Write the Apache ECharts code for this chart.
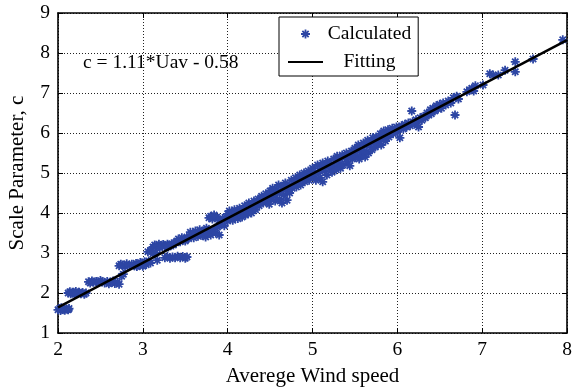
<!DOCTYPE html>
<html>
<head>
<meta charset="utf-8">
<style>
html,body{margin:0;padding:0;background:#fff;}
#chart{width:574px;height:388px;}
</style>
<script src="https://cdn.jsdelivr.net/npm/echarts@6/dist/echarts.min.js"></script>
</head>
<body>
<div id="chart"></div>
<script>
// ---- data ----
const xTicks = [2, 3, 4, 5, 6, 7, 8];
const yTicks = [1, 2, 3, 4, 5, 6, 7, 8, 9];
const xName = 'Averege Wind speed';
const yName = 'Scale Parameter, c';
const fitLabel = 'c = 1.11*Uav - 0.58';
const seriesNames = ['Calculated', 'Fitting'];

const calculated = [
  [2.0,1.58],[2.02,1.61],[2.03,1.56],[2.05,1.59],[2.07,1.62],[2.08,1.57],[2.1,1.6],[2.12,1.58],[2.13,1.61],[2.04,1.63],
  [2.12,2.0],[2.14,2.03],[2.15,1.98],[2.17,2.02],[2.19,2.0],[2.21,2.04],[2.23,1.99],[2.25,2.02],[2.27,1.98],[2.29,2.01],[2.31,1.97],[2.33,2.0],[2.2,1.97],
  [2.36,2.28],[2.38,2.25],[2.4,2.3],[2.42,2.27],[2.45,2.29],[2.48,2.26],[2.52,2.28],[2.55,2.25],[2.58,2.29],[2.6,2.23],[2.62,2.27],[2.65,2.3],[2.67,2.24],[2.7,2.27],[2.72,2.22],[2.5,2.31],
  [2.75,2.42],[2.77,2.47],
  [2.72,2.68],[2.74,2.72],[2.76,2.7],[2.79,2.66],[2.81,2.73],[2.84,2.69],[2.87,2.72],[2.9,2.68],[2.92,2.74],[2.95,2.7],[2.97,2.76],[3.0,2.72],[3.02,2.78],[3.04,2.71],[3.07,2.8],[3.09,2.75],[2.93,2.66],[3.0,2.67],
  [3.06,3.03],[3.09,3.06],[3.12,2.98],[3.15,3.0],
  [3.12,3.15],[3.14,3.2],[3.16,3.17],[3.19,3.22],[3.21,3.18],[3.24,3.21],[3.26,3.16],[3.29,3.22],[3.31,3.19],[3.34,3.23],[3.36,3.2],[3.39,3.26],[3.2,3.13],[3.3,3.15],
  [3.17,2.82],[3.26,2.88],[3.29,2.91],[3.32,2.87],[3.35,2.9],[3.38,2.88],[3.41,2.92],[3.44,2.88],[3.47,2.91],[3.5,2.87],[3.52,2.9],
  [3.4,3.3],[3.42,3.35],[3.44,3.28],[3.46,3.38],[3.48,3.33],[3.5,3.3],[3.52,3.4],[3.54,3.36],[3.56,3.52],[3.58,3.45],[3.6,3.38],[3.62,3.55],[3.63,3.48],[3.65,3.42],[3.67,3.58],[3.68,3.5],[3.7,3.44],[3.72,3.55],[3.74,3.4],[3.75,3.62],[3.77,3.5],[3.78,3.88],[3.8,3.92],[3.8,3.45],[3.82,3.85],[3.83,3.58],[3.84,3.95],[3.86,3.5],[3.87,3.9],[3.88,3.65],[3.9,3.82],[3.9,3.45],[3.92,3.72],[3.94,3.86],[3.96,3.68],[3.98,3.9],
  [4.0,3.98],[4.0,3.8],[4.02,4.05],[4.03,3.9],[4.05,3.95],[4.06,3.82],[4.08,4.08],[4.09,3.93],[4.11,4.02],[4.12,3.86],[4.14,4.12],[4.15,3.98],[4.17,3.9],[4.18,4.06],[4.2,4.18],[4.21,3.95],[4.22,4.08],[4.24,3.98],[4.25,4.25],[4.27,4.12],[4.28,4.0],[4.3,4.2],[4.31,4.3],[4.33,4.08],[4.34,4.22],[4.36,4.35],[4.37,4.18],[4.39,4.28],[4.4,4.42],[4.42,4.25],[4.43,4.35],[4.45,4.48],[4.46,4.3],[4.48,4.4],[4.49,4.22],
  [4.5,4.55],[4.51,4.38],[4.53,4.62],[4.54,4.45],[4.56,4.3],[4.57,4.58],[4.58,4.5],[4.6,4.7],[4.61,4.35],[4.62,4.55],[4.64,4.25],[4.65,4.65],[4.66,4.45],[4.68,4.75],[4.69,4.58],[4.7,4.32],[4.72,4.68],[4.73,4.5],[4.75,4.82],[4.76,4.62],[4.78,4.72],[4.8,4.88],[4.81,4.65],[4.83,4.8],[4.85,4.95],[4.86,4.7],[4.88,4.85],[4.9,5.0],[4.91,4.78],[4.93,4.9],[4.95,5.05],[4.96,4.82],[4.98,4.95],
  [5.0,5.12],[5.01,4.9],[5.03,5.02],[5.04,4.82],[5.06,5.2],[5.07,5.0],[5.09,4.88],[5.1,5.12],[5.12,4.78],[5.12,5.25],[5.14,5.05],[5.15,5.18],[5.17,4.95],[5.18,5.3],[5.2,5.12],[5.22,5.22],[5.23,5.02],[5.25,5.35],[5.26,5.15],[5.28,5.08],[5.29,5.42],[5.3,5.25],[5.32,5.35],[5.33,5.12],[5.35,5.45],[5.36,5.2],[5.38,5.38],[5.4,5.5],[5.41,5.28],[5.43,5.42],[5.44,5.18],[5.46,5.55],[5.47,5.35],[5.49,5.48],
  [5.5,5.62],[5.51,5.4],[5.53,5.55],[5.54,5.7],[5.55,5.35],[5.57,5.6],[5.58,5.45],[5.6,5.75],[5.61,5.55],[5.62,5.4],[5.64,5.68],[5.65,5.82],[5.66,5.5],[5.68,5.72],[5.7,5.58],[5.71,5.88],[5.72,5.78],[5.74,5.65],[5.75,5.9],[5.77,5.72],[5.78,5.82],[5.8,5.98],[5.81,5.7],[5.83,5.88],[5.84,6.05],[5.86,5.8],[5.87,5.95],[5.89,6.08],[5.9,5.9],[5.92,6.0],[5.94,6.12],[5.95,5.98],[5.97,6.08],[5.99,6.15],[6.0,6.02],[6.03,5.88],[6.02,6.12],
  [6.05,6.18],[6.07,6.1],[6.09,6.22],[6.11,6.15],[6.13,6.25],[6.15,6.18],[6.17,6.55],[6.18,6.28],[6.2,6.22],[6.22,6.33],[6.24,6.28],[6.25,6.15],[6.27,6.38],[6.29,6.32],[6.31,6.42],[6.33,6.38],[6.35,6.5],[6.37,6.45],[6.39,6.58],[6.4,6.48],[6.42,6.62],[6.44,6.55],[6.46,6.68],[6.48,6.6],[6.5,6.72],[6.52,6.62],[6.54,6.75],[6.57,6.7],[6.6,6.8],[6.63,6.75],[6.66,6.88],[6.68,6.45],[6.7,6.92],[6.72,6.85],
  [6.82,7.03],[6.85,7.08],[6.88,7.12],[6.9,7.05],[6.92,7.18],[7.01,7.2],[7.09,7.48],[7.13,7.45],[7.19,7.45],[7.27,7.57],[7.39,7.78],[7.39,7.53],[7.6,7.85],[7.95,8.33]
];

const fitting = [[2, 1.64], [8, 8.32]];

// ---- chart ----
const FONT = '"Liberation Serif", "Times New Roman", serif';
const BLUE = '#2d46a4';
const STAR = 'path://M8,0L12,0L12,20L8,20Z M0,8L20,8L20,12L0,12Z M4.41,1.59L18.41,15.59L15.59,18.41L1.59,4.41Z M15.59,1.59L18.41,4.41L4.41,18.41L1.59,15.59Z';

const xMin = xTicks[0], xMax = xTicks[xTicks.length - 1];
const yMin = yTicks[0], yMax = yTicks[yTicks.length - 1];

const axisCommon = {
  axisLine: { show: true, onZero: false, lineStyle: { color: '#000', width: 1.6 } },
  axisTick: { show: true, inside: true, length: 5, lineStyle: { color: '#000', width: 1 } },
  splitLine: { show: false }
};

const chart = echarts.init(document.getElementById('chart'), null, { renderer: 'canvas' });
chart.setOption({
  animation: false,
  backgroundColor: '#fff',
  grid: { left: 58, right: 7, top: 13, bottom: 55, containLabel: false, outerBoundsMode: 'none' },
  xAxis: [
    Object.assign({}, axisCommon, {
      type: 'value', position: 'bottom', min: xMin, max: xMax, interval: 1,
      name: xName, nameLocation: 'middle', nameGap: 33,
      nameTextStyle: { fontFamily: FONT, fontSize: 21, color: '#000' },
      axisLabel: { fontFamily: FONT, fontSize: 19.5, color: '#000', margin: 7 },
      splitLine: { show: true, lineStyle: { color: '#222', width: 1, type: [1, 2] } }
    }),
    Object.assign({}, axisCommon, {
      type: 'value', position: 'top', min: xMin, max: xMax, interval: 1,
      axisLabel: { show: false }
    })
  ],
  yAxis: [
    Object.assign({}, axisCommon, {
      type: 'value', position: 'left', min: yMin, max: yMax, interval: 1,
      name: yName, nameLocation: 'middle', nameGap: 30,
      nameTextStyle: { fontFamily: FONT, fontSize: 21, color: '#000' },
      axisLabel: { fontFamily: FONT, fontSize: 19.5, color: '#000', margin: 8 },
      splitLine: { show: true, lineStyle: { color: '#222', width: 1, type: [1, 2] } }
    }),
    Object.assign({}, axisCommon, {
      type: 'value', position: 'right', min: yMin, max: yMax, interval: 1,
      axisLabel: { show: false }
    })
  ],
  legend: {
    orient: 'vertical',
    left: 279, top: 17,
    padding: [7, 7, 4, 8],
    itemGap: 8,
    itemWidth: 35, itemHeight: 9,
    borderColor: '#000', borderWidth: 1,
    backgroundColor: '#fff',
    data: [
      { name: seriesNames[0] },
      { name: seriesNames[1], itemStyle: { color: 'rgba(0,0,0,0)', borderWidth: 0, opacity: 0 } }
    ],
    formatter: function (n) { return '{c|' + n + '}'; },
    textStyle: {
      fontFamily: FONT, fontSize: 19.5, color: '#000', padding: [0, 0, 0, -1],
      rich: { c: { fontFamily: FONT, fontSize: 19.5, color: '#000', width: 85, align: 'center' } }
    }
  },
  graphic: [{
    type: 'text', x: 83, y: 63, z: 10,
    style: { text: fitLabel, fontFamily: FONT, fontSize: 19.5, fill: '#000', align: 'left', verticalAlign: 'middle' }
  }],
  series: [
    {
      name: seriesNames[0], type: 'scatter', data: calculated,
      symbol: STAR, symbolSize: 9,
      itemStyle: { color: BLUE, opacity: 1 },
      z: 2
    },
    {
      name: seriesNames[1], type: 'line', data: fitting,
      symbol: 'none', showSymbol: false,
      lineStyle: { color: '#000', width: 2.5 },
      itemStyle: { color: '#000' },
      z: 3
    }
  ]
});
</script>
</body>
</html>
